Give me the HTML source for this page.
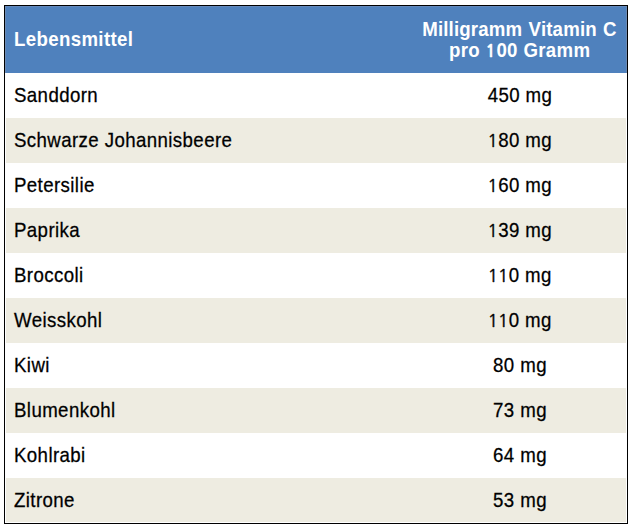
<!DOCTYPE html>
<html><head><meta charset="utf-8"><style>
html,body{margin:0;padding:0;background:#fff;width:631px;height:530px;overflow:hidden}
.t{position:absolute;left:4px;top:5px;width:622px;height:517px;border:1px solid #000;background:#fff}
.hf{position:absolute;left:0;top:0;width:622px;height:67px;background:#6c8ab3}
.ht{position:absolute;left:1px;top:0;width:620px;height:1px;background:#6489bc}
.h{position:absolute;left:1px;top:1px;width:620px;height:66px;background:#4f81bd;color:#fff;font:bold 18.67px/22px "Liberation Sans",Arial,sans-serif;letter-spacing:0.35px}
.h span{position:absolute;white-space:pre;transform:scaleY(1.04);transform-origin:0 17.5px}
.h .a{left:8px;top:22.0px}
.h .b1{left:416.2px}
.h .b2{left:443px}
.h .b1{top:12.0px;letter-spacing:0.16px;word-spacing:1px}
.h .b2{top:33px;letter-spacing:0.35px}
.r{position:absolute;left:1px;width:620px;font:18.67px/22px "Liberation Sans",Arial,sans-serif;color:#000;letter-spacing:0.4px;-webkit-text-stroke:0.25px #000}
.r span{position:absolute;white-space:pre;top:12px;transform:scaleY(1.04);transform-origin:0 17.5px}
.r .a{left:8px}
.r .b{left:414.0px;width:200px;text-align:center}
.r i{font-style:normal;-webkit-text-stroke:0.4px #000;font-family:NanumGothic,'Liberation Sans',sans-serif;font-size:17.8px;letter-spacing:0.10464916979110972px;margin-left:-0.6px}
.h i{font-style:normal;-webkit-text-stroke:0.3px #fff;font-family:NanumGothic,'Liberation Sans',sans-serif;font-size:17.4px;letter-spacing:0.5970166041778274px;margin-left:-0.4px}
.w{background:#fff}
.c{background:#eeece1}
</style></head><body>
<div class="t">
<div class="hf"></div><div class="ht"></div><div class="h"><span class="a">Lebensmittel</span><span class="b1">Milligramm Vitamin C</span><span class="b2">pro <i>1</i>00 Gramm</span></div>
<div class="r w" style="top:67px;height:45px"><span class="a">Sanddorn</span><span class="b">450 mg</span></div>
<div class="r c" style="top:112px;height:45px"><span class="a">Schwarze Johannisbeere</span><span class="b"><i>1</i>80 mg</span></div>
<div class="r w" style="top:157px;height:45px"><span class="a">Petersilie</span><span class="b"><i>1</i>60 mg</span></div>
<div class="r c" style="top:202px;height:45px"><span class="a">Paprika</span><span class="b"><i>1</i>39 mg</span></div>
<div class="r w" style="top:247px;height:45px"><span class="a">Broccoli</span><span class="b"><i>1</i><i>1</i>0 mg</span></div>
<div class="r c" style="top:292px;height:45px"><span class="a">Weisskohl</span><span class="b"><i>1</i><i>1</i>0 mg</span></div>
<div class="r w" style="top:337px;height:45px"><span class="a">Kiwi</span><span class="b">80 mg</span></div>
<div class="r c" style="top:382px;height:45px"><span class="a">Blumenkohl</span><span class="b">73 mg</span></div>
<div class="r w" style="top:427px;height:45px"><span class="a">Kohlrabi</span><span class="b">64 mg</span></div>
<div class="r c" style="top:472px;height:44px"><span class="a">Zitrone</span><span class="b">53 mg</span></div>
</div>
</body></html>
